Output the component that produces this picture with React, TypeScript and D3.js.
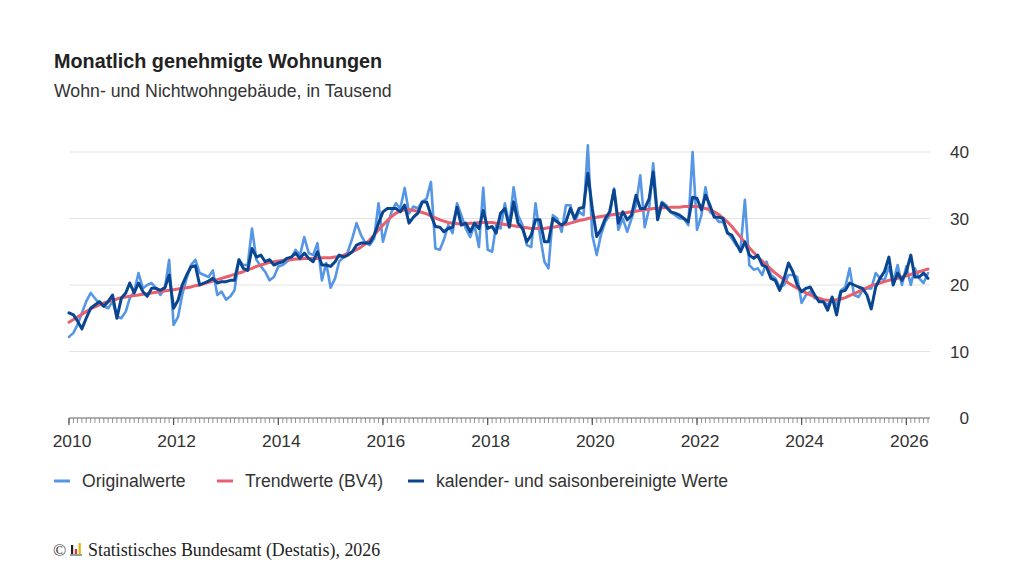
import React, { useEffect } from "react";
import * as d3 from "d3";

// Monatswerte Jan 2010 bis Jun 2026, in Tausend
const originalwerte = [
  12.2, 12.8, 14.0, 15.8, 17.5, 18.8, 18.0, 17.2, 16.8, 16.5, 17.5, 15.3,
  15.0, 16.0, 18.0, 19.0, 21.8, 19.5, 20.0, 20.3, 19.5, 18.5, 19.5, 23.8,
  14.0, 15.2, 18.5, 21.0, 23.0, 23.8, 21.8, 21.5, 21.2, 22.2, 18.5, 19.0,
  17.8, 18.3, 19.2, 23.8, 23.0, 23.0, 28.5, 23.8, 22.8, 22.0, 20.7, 21.2,
  22.8, 23.0, 23.5, 24.0, 25.3, 24.5, 27.2, 24.8, 24.5, 26.3, 20.7, 23.3,
  19.6, 21.0, 23.5, 24.2, 25.0, 27.0, 29.3, 27.5, 26.3, 26.0, 27.0, 32.3,
  26.5, 29.0, 31.0, 32.3, 31.5, 34.6, 30.8, 31.8, 31.5, 32.5, 33.0, 35.5,
  25.5, 25.3, 26.8, 29.0, 27.8, 32.3, 30.5, 28.5, 27.2, 29.0, 25.7, 34.6,
  25.3, 25.0, 29.0, 28.5, 32.3, 29.0, 34.7, 30.5, 29.0, 26.0, 25.7, 32.3,
  27.5, 23.5, 22.5, 30.5, 30.0, 28.0, 32.0, 32.0, 29.5, 31.0, 30.5, 41.0,
  27.5, 24.5, 27.5, 29.5, 30.5, 34.5, 28.3, 30.0, 28.0, 30.0, 32.0, 36.5,
  28.7, 31.5, 38.3, 30.5, 32.5, 32.0, 31.0, 30.5, 30.0, 30.0, 29.0, 40.0,
  28.3, 30.5, 34.7, 31.0, 30.5, 29.5, 29.5, 28.0, 27.0, 26.0, 25.5, 32.8,
  23.0, 22.3, 22.5, 21.5, 23.5, 21.5, 21.0, 19.7, 20.0, 21.5, 21.5, 21.2,
  17.3, 18.5, 19.0, 18.0, 18.0, 17.5, 17.0, 18.0, 17.0, 19.2, 19.7, 22.5,
  18.5, 18.2, 19.2, 19.5, 19.5, 21.8, 21.0, 20.7, 22.7, 20.5, 23.0, 20.0,
  22.8, 20.0, 22.5, 21.0, 20.3, 21.8,
];

const trendwerte = [
  14.4, 14.8, 15.2, 15.6, 16.0, 16.4, 16.7, 17.0, 17.3, 17.5, 17.7, 17.9,
  18.1, 18.2, 18.3, 18.4, 18.5, 18.6, 18.7, 18.8, 18.9, 19.0, 19.1, 19.2,
  19.3, 19.4, 19.5, 19.6, 19.7, 19.9, 20.0, 20.2, 20.4, 20.6, 20.8, 21.0,
  21.2, 21.4, 21.6, 21.8, 22.0, 22.3, 22.5, 22.8, 23.0, 23.2, 23.4, 23.5,
  23.6, 23.7, 23.8, 23.8, 23.9, 23.9, 24.0, 24.0, 24.0, 24.0, 24.1, 24.1,
  24.1, 24.2, 24.3, 24.5, 24.7, 25.0, 25.3, 25.7, 26.2, 26.8, 27.5, 28.3,
  29.0, 29.7, 30.3, 30.8, 31.1, 31.3, 31.3, 31.2, 31.1, 30.9, 30.7, 30.4,
  30.1, 29.8, 29.6, 29.4, 29.3, 29.2, 29.2, 29.2, 29.3, 29.3, 29.4, 29.4,
  29.4, 29.4, 29.3, 29.2, 29.1, 29.0, 28.9, 28.8, 28.7, 28.6, 28.5, 28.5,
  28.5, 28.5, 28.6, 28.7, 28.8, 29.0, 29.1, 29.3, 29.5, 29.7, 29.8, 30.0,
  30.1, 30.2, 30.3, 30.4, 30.5, 30.6, 30.7, 30.8, 30.9, 31.0, 31.1, 31.2,
  31.3, 31.4, 31.5, 31.5, 31.6, 31.6, 31.7, 31.7, 31.7, 31.8, 31.8, 31.8,
  31.8, 31.7, 31.5, 31.3, 31.0, 30.6, 30.1, 29.5, 28.8, 28.0, 27.2, 26.4,
  25.6, 24.9, 24.2, 23.6, 23.0, 22.4, 21.8, 21.3, 20.8, 20.3, 19.9, 19.5,
  19.1, 18.8, 18.5, 18.2, 18.0, 17.8, 17.7, 17.7, 17.8, 17.9, 18.1, 18.4,
  18.7, 19.0, 19.3, 19.6, 19.9, 20.1, 20.3, 20.5, 20.7, 20.9, 21.0, 21.2,
  21.4, 21.6, 21.8, 22.0, 22.2, 22.4,
];

const saisonbereinigt = [
  15.8, 15.5, 14.6, 13.4, 15.0, 16.5, 17.0, 17.5, 16.8, 17.5, 18.5, 15.0,
  18.0, 18.8, 20.3, 18.8, 20.3, 19.0, 18.3, 19.5, 19.5, 19.2, 19.6, 21.5,
  16.5, 17.7, 20.0, 21.5, 22.7, 22.9, 20.0, 20.3, 20.6, 21.0, 20.3, 20.5,
  20.5, 20.7, 20.7, 23.8, 22.5, 22.2, 25.5, 24.2, 24.5, 23.5, 23.8, 23.0,
  23.3, 23.5, 24.0, 24.2, 24.8, 24.0, 24.8, 24.0, 23.5, 25.0, 23.0, 23.0,
  22.8, 23.5, 24.5, 24.2, 24.5, 25.0, 26.0, 26.3, 26.3, 26.3, 27.5, 29.3,
  31.0, 31.5, 31.5, 31.5, 31.0, 32.0, 29.3, 30.2, 30.8, 32.5, 32.5, 30.5,
  28.8, 28.7, 28.0, 28.5, 28.7, 31.7, 29.0, 29.3, 28.0, 29.3, 28.5, 31.2,
  28.5, 28.8, 27.8, 30.8, 31.5, 28.7, 32.5, 29.3, 28.5, 26.5, 27.5, 29.8,
  29.8, 26.5, 26.5, 30.0, 29.5, 29.0, 29.5, 31.5, 30.0, 31.5, 31.7, 36.8,
  31.5, 27.3, 28.3, 30.0, 31.0, 34.3, 29.3, 31.0, 29.8, 30.5, 33.5, 31.5,
  31.5, 33.0, 37.0, 29.8, 32.3, 31.7, 31.0, 30.8, 30.5, 30.0, 29.5, 33.2,
  33.0, 31.3, 33.5, 32.0, 30.2, 30.2, 30.0, 27.8, 27.5, 26.3, 25.0, 26.5,
  24.5, 24.0, 24.5, 23.0, 22.7, 21.0, 20.7, 19.2, 21.0, 23.3, 22.0, 20.0,
  19.0, 19.5, 19.7, 18.5, 17.5, 17.5, 16.2, 18.2, 15.5, 19.0, 19.2, 20.3,
  20.0, 19.7, 19.5, 18.5, 16.4, 19.7, 21.0, 22.0, 24.2, 20.0, 21.8, 20.7,
  22.0, 24.5, 21.2, 21.2, 21.8, 21.0,
];

const yTicks = [0, 10, 20, 30, 40];
const xTickYears = [2010, 2012, 2014, 2016, 2018, 2020, 2022, 2024, 2026];

const seriesInfo = [
  { name: "Originalwerte", color: "#5596e6", width: 2.6, values: originalwerte },
  { name: "Trendwerte (BV4)", color: "#e8606e", width: 3, values: trendwerte },
  { name: "kalender- und saisonbereinigte Werte", color: "#0a4690", width: 3, values: saisonbereinigt },
];

const sans = "'Liberation Sans', Arial, Helvetica, sans-serif";
const serif = "'Liberation Serif', 'Times New Roman', serif";

export default function App() {
  useEffect(() => {
    document.body.style.margin = "0";
  }, []);

  const width = 1024;
  const height = 576;
  const left = 69;
  const right = 928;
  const bottom = 418;
  const top = 152;

  const start = new Date(2010, 0, 1);
  const months = originalwerte.map((_, i) => d3.timeMonth.offset(start, i));
  const end = months[months.length - 1];

  const x = d3.scaleTime().domain([start, end]).range([left, right]);
  const y = d3.scaleLinear().domain([0, 40]).range([bottom, top]);

  const line = d3
    .line<number>()
    .x((_, i) => x(months[i]))
    .y((d) => y(d));

  const minorTicks = d3.timeMonth.range(start, d3.timeMonth.offset(end, 1));

  const legendX = [54, 217, 408];

  return (
    <svg width={width} height={height} style={{ display: "block", background: "#fff" }}>
      <text x={54} y={68} fontFamily={sans} fontWeight="bold" fontSize={19.8} fill="#222">
        Monatlich genehmigte Wohnungen
      </text>
      <text x={54} y={97} fontFamily={sans} fontSize={17.7} fill="#333">
        Wohn- und Nichtwohngebäude, in Tausend
      </text>

      {/* grid + y labels */}
      {yTicks.map((t) => (
        <g key={t}>
          {t > 0 && (
            <line x1={left} x2={right + 2} y1={y(t)} y2={y(t)} stroke="#e3e3e3" strokeWidth={1} />
          )}
          <text
            x={969}
            y={y(t) + 6}
            textAnchor="end"
            fontFamily={sans}
            fontSize={17.2}
            fill="#333"
          >
            {t}
          </text>
        </g>
      ))}

      {/* x axis */}
      <line x1={left} x2={right + 2} y1={bottom} y2={bottom} stroke="#666" strokeWidth={1} />
      {minorTicks.map((d, i) => (
        <line
          key={i}
          x1={x(d)}
          x2={x(d)}
          y1={bottom}
          y2={bottom + 5}
          stroke="#777"
          strokeWidth={0.8}
        />
      ))}
      {xTickYears.map((yr) => {
        const d = new Date(yr, 0, 1);
        return (
          <g key={yr}>
            <line x1={x(d)} x2={x(d)} y1={bottom} y2={bottom + 7} stroke="#555" strokeWidth={1.2} />
            <text
              x={x(d) + 3}
              y={bottom + 29}
              textAnchor="middle"
              fontFamily={sans}
              fontSize={17.4}
              fill="#333"
            >
              {yr}
            </text>
          </g>
        );
      })}

      {/* series */}
      {seriesInfo.map((s) => (
        <path
          key={s.name}
          d={line(s.values) || ""}
          fill="none"
          stroke={s.color}
          strokeWidth={s.width}
          strokeLinejoin="round"
          strokeLinecap="round"
        />
      ))}

      {/* legend */}
      {seriesInfo.map((s, i) => (
        <g key={s.name} transform={`translate(${legendX[i]},481)`}>
          <line x1={0} x2={16} y1={0} y2={0} stroke={s.color} strokeWidth={3} />
          <text x={28} y={6} fontFamily={sans} fontSize={17.6} fill="#333">
            {s.name}
          </text>
        </g>
      ))}

      {/* source */}
      <g transform="translate(53,556)">
        <text x={0} y={0} fontFamily={serif} fontSize={17.5} fill="#333">
          ©
        </text>
        <rect x={18} y={-11} width={2.2} height={9} fill="#222" />
        <rect x={21.8} y={-7} width={2.2} height={5} fill="#d9342b" />
        <rect x={25.6} y={-13} width={2.2} height={11} fill="#e9b000" />
        <rect x={17} y={-2} width={12} height={2} fill="#999" />
        <text x={35} y={0} fontFamily={serif} fontSize={17.9} fill="#222">
          Statistisches Bundesamt (Destatis), 2026
        </text>
      </g>
    </svg>
  );
}
